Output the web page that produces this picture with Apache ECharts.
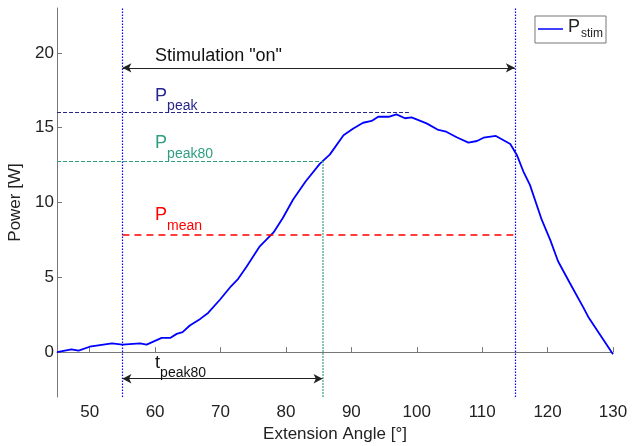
<!DOCTYPE html>
<html>
<head>
<meta charset="utf-8">
<script src="https://cdn.jsdelivr.net/npm/echarts@6/dist/echarts.min.js"></script>
<style>
  html, body { margin: 0; padding: 0; background: #fff; }
  #chart { width: 632px; height: 446px; }
</style>
</head>
<body>
<div id="chart"></div>
<script>
// 曲线数据：伸展角度 / 功率
var angles = [45, 47.2, 48.3, 50, 53.4, 55, 57.7, 58.7, 61, 62.3, 63.3, 64.2, 65.3, 66.9, 68.1, 69.9,
  71.6, 72.7, 74, 76, 78.1, 79.5, 81.1, 83, 85.2, 86.7, 88.8, 90.3, 91.8, 93.1, 94.1, 95.7, 96.9,
  98.2, 99.2, 101.5, 103.3, 104.5, 106.1, 107.9, 109.2, 110.2, 112.1, 114.3, 115.3, 116.3, 117.3,
  119.1, 120.4, 121.6, 123.4, 125.5, 126.3, 128, 130];
var power = [0, 0.18, 0.1, 0.36, 0.58, 0.5, 0.58, 0.5, 0.95, 0.95, 1.22, 1.33, 1.78, 2.22, 2.62, 3.5,
  4.4, 4.9, 5.73, 7.07, 8.0, 8.95, 10.2, 11.4, 12.6, 13.2, 14.5, 14.95, 15.33, 15.45, 15.73, 15.73, 15.89,
  15.63, 15.69, 15.29, 14.85, 14.73, 14.36, 14.0, 14.11, 14.33, 14.45, 13.91, 13.18, 12.07, 11.18,
  8.85, 7.5, 6.07, 4.62, 2.96, 2.29, 1.18, -0.15];

var xTicks = [50, 60, 70, 80, 90, 100, 110, 120, 130];
var yTicks = [0, 5, 10, 15, 20];

// 标注用的数值
var stimOn = [55, 115];
var pPeak = 16, pPeakEnd = 98.8;
var pPeak80 = 12.75, tPeak80 = 85.6;
var pMean = 7.85;
var stimArrowY = 19, tArrowY = -1.78;

var fontFam = '"Liberation Sans", Arial, sans-serif';

var seriesData = angles.map(function (a, i) { return [a, power[i]]; });

var chart = echarts.init(document.getElementById('chart'));

function hline(y, x0, x1, color, type, width) {
    return [{ coord: [x0, y], lineStyle: { color: color, type: type, width: width } }, { coord: [x1, y] }];
}
function arrow(y, x0, x1) {
    return [
        { coord: [x0, y], symbol: 'arrow', symbolSize: [7, 9], lineStyle: { color: '#222', type: 'solid', width: 1 } },
        { coord: [x1, y], symbol: 'arrow', symbolSize: [7, 9] }
    ];
}

var option = {
    animation: false,
    grid: { left: 57, right: 19, top: 8, bottom: 49, containLabel: false, outerBoundsMode: 'none' },
    xAxis: {
        type: 'value', min: 45, max: 130,
        name: 'Extension Angle [°]', nameLocation: 'middle', nameGap: 28,
        nameTextStyle: { fontSize: 17, color: '#222', fontFamily: fontFam },
        axisLine: { lineStyle: { color: '#777' } },
        axisTick: { inside: true, length: 5, customValues: xTicks, lineStyle: { color: '#777' } },
        axisLabel: { customValues: xTicks, fontSize: 17, color: '#222', fontFamily: fontFam, margin: 7 },
        splitLine: { show: false }
    },
    yAxis: {
        type: 'value', min: -3, max: 23,
        name: 'Power [W]', nameLocation: 'middle', nameGap: 32,
        nameTextStyle: { fontSize: 17, color: '#222', fontFamily: fontFam },
        axisLine: { lineStyle: { color: '#777' } },
        axisTick: { inside: true, length: 5, customValues: yTicks, lineStyle: { color: '#777' } },
        axisLabel: { customValues: yTicks, fontSize: 17, color: '#222', fontFamily: fontFam, margin: 3 },
        splitLine: { show: false }
    },
    legend: {
        data: ['P_stim'],
        right: 26, top: 16,
        padding: [2, 3, 3, 3],
        borderColor: '#777', borderWidth: 1,
        icon: 'rect', itemWidth: 25, itemHeight: 1.5, itemGap: 2,
        formatter: function () { return '{a|P}{b|stim}'; },
        textStyle: {
            fontFamily: fontFam,
            rich: {
                a: { fontSize: 18, fill: '#222', color: '#222', verticalAlign: 'top', lineHeight: 18 },
                b: { fontSize: 12, fill: '#222', color: '#222', verticalAlign: 'bottom', padding: [10, 0, 0, 1] }
            }
        }
    },
    series: [
        {
            name: 'P_stim', type: 'line', data: seriesData,
            symbol: 'none', smooth: false,
            lineStyle: { color: '#0000ff', width: 1.8 },
            itemStyle: { color: '#0000ff' },
            z: 3
        },
        {
            name: 'annot', type: 'line', data: [], z: 4,
            markLine: {
                silent: true, symbol: 'none', label: { show: false },
                data: [
                    hline(pPeak, 45, pPeakEnd, '#26268f', 'dashed', 1),
                    hline(pPeak80, 45, tPeak80, '#2f9e80', 'dashed', 1),
                    [{ coord: [tPeak80, pPeak80], lineStyle: { color: '#2f9e80', type: 'dotted', width: 1.5 } }, { coord: [tPeak80, -3] }],
                    hline(pMean, stimOn[0], stimOn[1], '#ff0000', [7, 5], 1.5),
                    [{ coord: [stimOn[0], -3], lineStyle: { color: '#0000ff', type: [1.5, 1.5], width: 1.2 } }, { coord: [stimOn[0], 23] }],
                    [{ coord: [stimOn[1], -3], lineStyle: { color: '#0000ff', type: [1.5, 1.5], width: 1.2 } }, { coord: [stimOn[1], 23] }],
                    arrow(stimArrowY, stimOn[0], stimOn[1]),
                    arrow(tArrowY, stimOn[0], tPeak80)
                ]
            }
        }
    ]
};
chart.setOption(option);

// 文字标注（带下标）
var labels = [
    { x: 60, y: 20.4, main: 'Stimulation "on"', sub: '', color: '#111' },
    { x: 60, y: 17.75, main: 'P', sub: 'peak', color: '#26268f' },
    { x: 60, y: 14.55, main: 'P', sub: 'peak80', color: '#2f9e80' },
    { x: 60, y: 9.75, main: 'P', sub: 'mean', color: '#ff0000' },
    { x: 60, y: -0.1, main: 't', sub: 'peak80', color: '#111' }
];
var graphics = labels.map(function (l) {
    var p = chart.convertToPixel({ gridIndex: 0 }, [l.x, l.y]);
    return {
        type: 'text', left: p[0], top: p[1], z: 10,
        style: {
            text: '{a|' + l.main + '}' + (l.sub ? '{b|' + l.sub + '}' : ''),
            fill: l.color,
            fontFamily: fontFam,
            rich: {
                a: { fontSize: 18, fill: l.color, verticalAlign: 'top', lineHeight: 18 },
                b: { fontSize: 14, fill: l.color, verticalAlign: 'bottom', padding: [13, 0, 0, 0] }
            }
        }
    };
});
chart.setOption({ graphic: graphics });
</script>
</body>
</html>
